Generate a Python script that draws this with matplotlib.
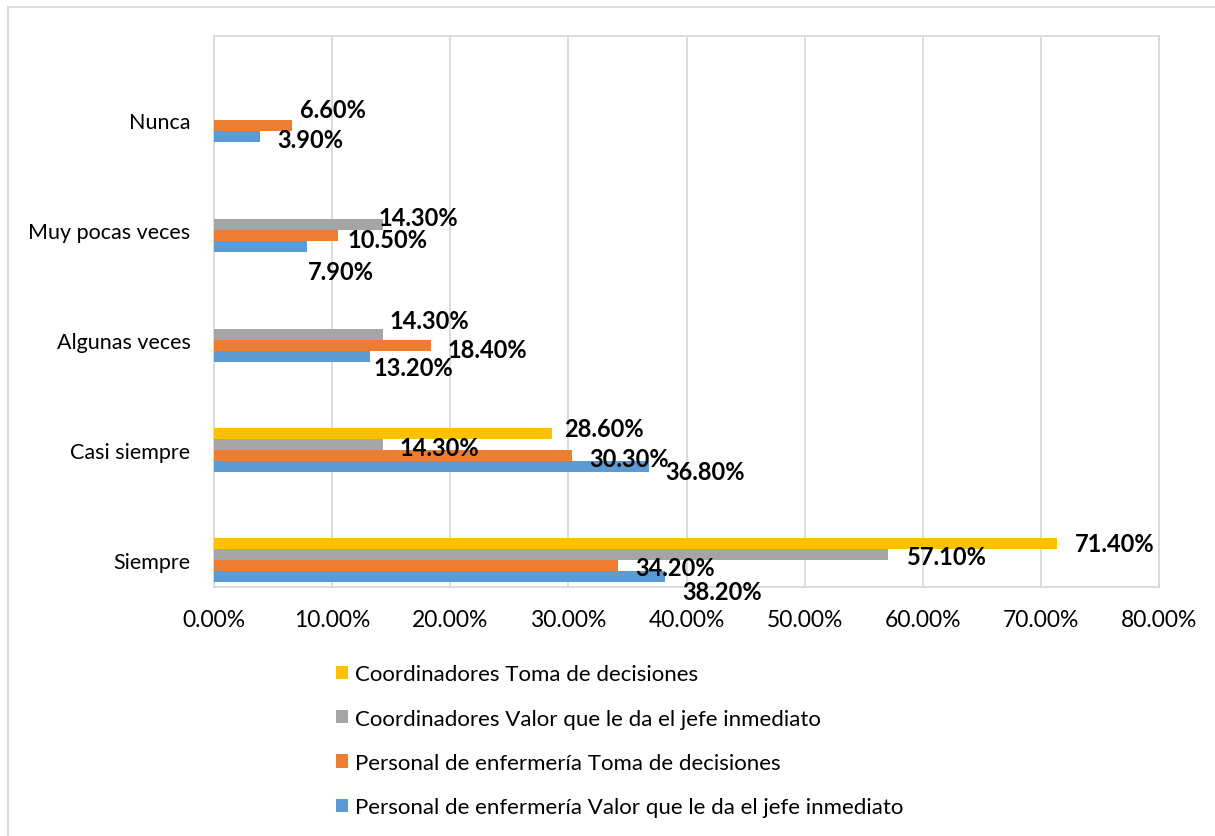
import matplotlib.pyplot as plt
from matplotlib.patches import Patch
from matplotlib.lines import Line2D

plt.rcParams['font.family'] = ['Lato', 'DejaVu Sans']

# categories, bottom to top
categorias = ['Siempre', 'Casi siempre', 'Algunas veces', 'Muy pocas veces', 'Nunca']

# percent values per series (0 = no bar / no label)
enf_valor = [38.2, 36.8, 13.2, 7.9, 3.9]
enf_toma = [34.2, 30.3, 18.4, 10.5, 6.6]
coord_valor = [57.1, 14.3, 14.3, 14.3, 0]
coord_toma = [71.4, 28.6, 0, 0, 0]

nombres = ['Personal de enfermería Valor que le da el jefe inmediato',
           'Personal de enfermería Toma de decisiones',
           'Coordinadores Valor que le da el jefe inmediato',
           'Coordinadores Toma de decisiones']
colores = ['#5B9BD5', '#ED7D31', '#A5A5A5', '#FFC000']
xticks = [0, 10, 20, 30, 40, 50, 60, 70, 80]

# label offsets in pixels (dx from bar end, dy from bar centre), per series/category
offsets = [
    [(17, -15), (17, -5), (4, -11), (1, -25), (17, -3)],
    [(17, -1.5), (17, -2.5), (16, -3.5), (9, -4), (8, 16)],
    [(18, -1.5), (17, -2.5), (7, 14.5), (-4, 7.5), None],
    [(17, 0), (12, 5), None, None, None],
]

fig = plt.figure(figsize=(12.15, 8.37), dpi=100)
W, H = 1215, 837
ax = fig.add_axes([214 / W, 1 - 588 / H, (1159 - 214) / W, (588 - 37) / H])

h = 0.1
series = [enf_valor, enf_toma, coord_valor, coord_toma]
for i, vals in enumerate(series):
    ys = [k + (i - 1.5) * h for k in range(len(categorias))]
    ax.barh(ys, vals, height=h, color=colores[i], zorder=3)
    for k, v in enumerate(vals):
        if v == 0:
            continue
        dx, dy = offsets[i][k]
        ax.annotate(f'{v:.2f}%', (v, ys[k]), xytext=(dx, dy),
                    textcoords='offset pixels', ha='left', va='center',
                    fontsize=17, fontweight='bold', color='black', zorder=4)

ax.set_xlim(0, 80)
ax.set_ylim(-0.245, 4.764)
ax.set_xticks(xticks)
ax.set_xticklabels([f'{t:.2f}%' for t in xticks], fontsize=16.5)
ax.set_yticks(range(len(categorias)))
ax.set_yticklabels(categorias, fontsize=15.5)
ax.tick_params(length=0)
ax.tick_params(axis='x', pad=16)
ax.tick_params(axis='y', pad=17)
ax.grid(axis='x', color='#D9D9D9', linewidth=1.3, zorder=0)
for s in ax.spines.values():
    s.set_color('#D9D9D9')
    s.set_linewidth(1.3)

handles = [Patch(facecolor=colores[i]) for i in [3, 2, 1, 0]]
labels = [nombres[i] for i in [3, 2, 1, 0]]
fig.legend(handles, labels, loc='upper left', bbox_to_anchor=(325 / W, 1 - 654 / H),
           frameon=False, fontsize=16, handlelength=0.55, handleheight=0.55,
           handletextpad=0.3, labelspacing=1.1, borderpad=0)

# outer chart border (top and left visible)
fig.add_artist(Line2D([8 / W, 1], [1 - 8 / H, 1 - 8 / H], color='#D9D9D9', linewidth=1.3))
fig.add_artist(Line2D([8 / W, 8 / W], [0, 1 - 8 / H], color='#D9D9D9', linewidth=1.3))

fig.savefig('out.png', dpi=100)
